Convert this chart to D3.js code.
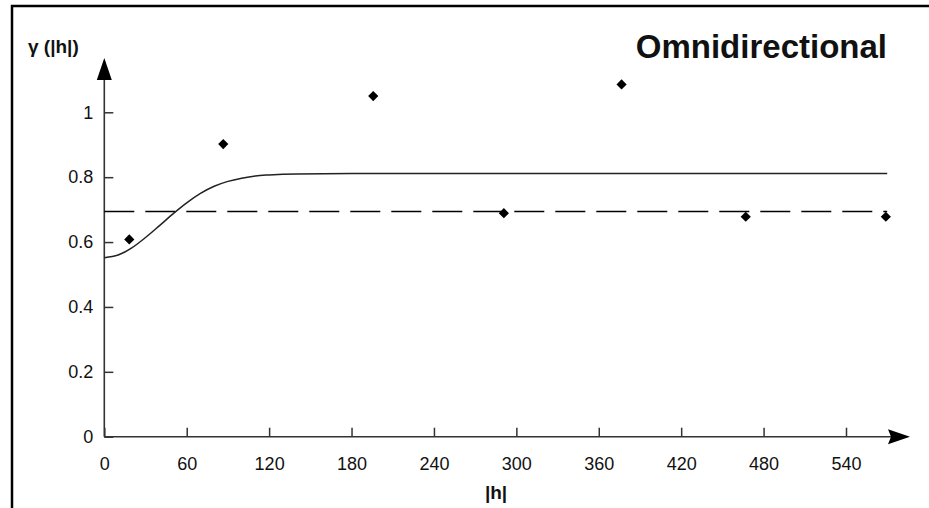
<!DOCTYPE html>
<html>
<head>
<meta charset="utf-8">
<script src="https://cdn.jsdelivr.net/npm/d3@7"></script>
<style>
  html, body { margin: 0; padding: 0; background: #fff; }
  svg { display: block; }
  text { font-family: "Liberation Sans", Arial, sans-serif; fill: #111; }
</style>
</head>
<body>
<svg id="chart" width="929" height="508"></svg>
<script>
// ---- data ----
const xTicks = [0, 60, 120, 180, 240, 300, 360, 420, 480, 540];
const yTicks = [0, 0.2, 0.4, 0.6, 0.8, 1];
const lagH   = [18.2, 86.6, 195.8, 290.9, 376.6, 467, 569];
const gammaV = [0.608, 0.902, 1.050, 0.689, 1.086, 0.678, 0.678];
const modelH = [0, 10, 20, 30, 40, 50, 60, 70, 80, 90, 100, 110, 120, 140, 180, 570];
const modelV = [0.552, 0.560, 0.582, 0.614, 0.650, 0.687, 0.721, 0.750, 0.772, 0.787, 0.797, 0.804, 0.807, 0.810, 0.811, 0.811];
const sillH  = [0, 570];
const sillV  = [0.694, 0.694];
const title = "Omnidirectional";
const xLabel = "|h|";
const yLabel = "γ (|h|)";

// ---- layout ----
const svg = d3.select("#chart");
const x = d3.scaleLinear().domain([0, 540]).range([104.3, 846]);
const y = d3.scaleLinear().domain([0, 1]).range([436.7, 112.3]);
const axisColor = "#333";

// frame
svg.append("rect").attr("x", 12).attr("y", 6).attr("width", 1000).attr("height", 1000)
  .attr("fill", "none").attr("stroke", "#000").attr("stroke-width", 2.5);

// axes lines + arrows
const x0 = x(0), y0 = y(0);
const xEnd = 910, yEnd = 58;
svg.append("line").attr("x1", x0).attr("y1", y0).attr("x2", xEnd - 6).attr("y2", y0)
  .attr("stroke", axisColor).attr("stroke-width", 1.6);
svg.append("line").attr("x1", x0).attr("y1", y0).attr("x2", x0).attr("y2", yEnd + 6)
  .attr("stroke", axisColor).attr("stroke-width", 1.6);
svg.append("path")
  .attr("d", `M${xEnd},${y0} L${xEnd-22},${y0-7.5} L${xEnd-19},${y0} L${xEnd-22},${y0+7.5} Z`)
  .attr("fill", "#000");
svg.append("path")
  .attr("d", `M${x0},${yEnd} L${x0-7.5},${yEnd+22} L${x0+7.5},${yEnd+22} Z`)
  .attr("fill", "#000");

// x axis ticks
const gx = svg.append("g").attr("transform", `translate(0,${y0})`)
  .call(d3.axisBottom(x).tickValues(xTicks).tickSizeInner(-9).tickSizeOuter(0).tickPadding(21).tickFormat(d => String(d)));
gx.select(".domain").remove();
gx.selectAll(".tick line").attr("stroke", axisColor).attr("stroke-width", 1.5);
gx.selectAll(".tick text").attr("font-size", 18).attr("fill", "#111")
  .style("font-family", "'Liberation Sans', Arial, sans-serif");

// y axis ticks
const gy = svg.append("g").attr("transform", `translate(${x0},0)`)
  .call(d3.axisLeft(y).tickValues(yTicks).tickSizeInner(-9).tickSizeOuter(0).tickPadding(11).tickFormat(d => String(d)));
gy.select(".domain").remove();
gy.selectAll(".tick line").attr("stroke", axisColor).attr("stroke-width", 1.5);
gy.selectAll(".tick text").attr("font-size", 18).attr("fill", "#111")
  .style("font-family", "'Liberation Sans', Arial, sans-serif");

// sill dashed line
const sill = sillH.map((h, i) => [h, sillV[i]]);
svg.append("path").datum(sill)
  .attr("d", d3.line().x(d => x(d[0])).y(d => y(d[1])))
  .attr("fill", "none").attr("stroke", "#000").attr("stroke-width", 1.6)
  .attr("stroke-dasharray", "30,11");

// model curve
const model = modelH.map((h, i) => [h, modelV[i]]);
svg.append("path").datum(model)
  .attr("d", d3.line().x(d => x(d[0])).y(d => y(d[1])).curve(d3.curveMonotoneX))
  .attr("fill", "none").attr("stroke", "#222").attr("stroke-width", 1.5);

// experimental points
const pts = lagH.map((h, i) => [h, gammaV[i]]);
svg.append("g").selectAll("path").data(pts).join("path")
  .attr("transform", d => `translate(${x(d[0])},${y(d[1])}) rotate(45)`)
  .attr("d", d3.symbol(d3.symbolSquare, 52))
  .attr("fill", "#000");

// texts
svg.append("text").attr("x", 887).attr("y", 58).attr("text-anchor", "end")
  .attr("font-size", 33).attr("font-weight", "bold").attr("fill", "#000").text(title);
svg.append("text").attr("x", 28).attr("y", 53)
  .attr("font-size", 19).attr("font-weight", "bold").attr("fill", "#000").text(yLabel);
svg.append("text").attr("x", 496).attr("y", 499).attr("text-anchor", "middle")
  .attr("font-size", 19).attr("font-weight", "bold").attr("fill", "#000").text(xLabel);
</script>
</body>
</html>
